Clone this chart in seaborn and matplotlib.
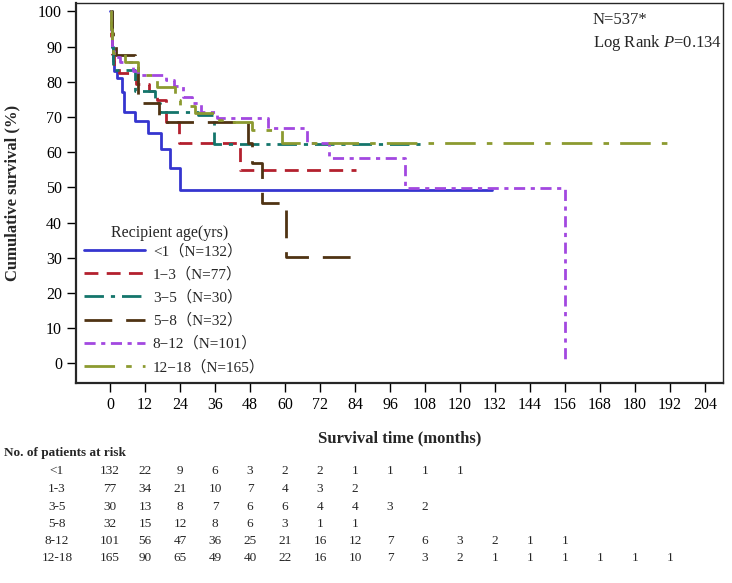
import matplotlib
matplotlib.use('Agg')
import matplotlib.pyplot as plt
import matplotlib.transforms as mtrans
import pandas as pd
import seaborn as sns

# Kaplan-Meier step curves (months, % surviving)
groups = ['<1', '1-3', '3-5', '5-8', '8-12', '12-18']
group_n = [132, 77, 30, 32, 101, 165]

t_lt1 = [0, 0.3, 0.6, 1.0, 1.5, 2.5, 4.0, 4.6, 8.6, 13.1, 17.5, 20.6, 24.0, 131]
s_lt1 = [100, 95, 90, 86, 83, 81, 77, 71.5, 69, 65.5, 61, 55.5, 49.3, 49.3]

t_1_3 = [0, 0.4, 0.8, 1.5, 3, 8.9, 13.4, 16, 19, 23.5, 44.6, 84.5]
s_1_3 = [100, 93, 88, 84.5, 82.5, 79.5, 77.5, 74.8, 68.5, 62.7, 54.8, 54.8]

t_3_5 = [0, 0.5, 1.0, 8.6, 15.5, 17, 30, 35.5, 108]
s_3_5 = [100, 90, 83.3, 77.5, 74, 71.5, 70.5, 62.3, 62.3]

t_5_8 = [0, 0.5, 1.0, 2.0, 8.6, 9.7, 16.6, 47.4, 48.5, 52, 60.2, 84]
s_5_8 = [100, 94, 90.5, 87.5, 85.5, 74, 68.5, 62.5, 56.9, 45.5, 30.3, 30.3]

t_8_12 = [0, 0.4, 0.8, 1.5, 3.5, 8, 9.6, 19, 22, 25, 28, 31, 36.6, 54.3, 67.4, 74.9, 101.1, 156]
s_8_12 = [100, 94, 90, 87, 85.5, 83, 81.9, 80.5, 78.8, 75.8, 74, 71.5, 69.6, 66.8, 62.5, 58.3, 49.7, 0]

t_12_18 = [0, 0.3, 0.6, 1, 5, 9.7, 14.8, 16, 22.3, 24, 29, 36, 38.3, 48.6, 58.9, 191]
s_12_18 = [100, 95, 91, 88.3, 85.7, 81.9, 80.5, 78.5, 74.8, 73, 71, 69.2, 68.6, 66.3, 62.7, 62.7]

# numbers at risk (every 12 months from 0)
risk_times = list(range(0, 205, 12))
risk_lt1 = [132, 22, 9, 6, 3, 2, 2, 1, 1, 1, 1]
risk_1_3 = [77, 34, 21, 10, 7, 4, 3, 2]
risk_3_5 = [30, 13, 8, 7, 6, 6, 4, 4, 3, 2]
risk_5_8 = [32, 15, 12, 8, 6, 3, 1, 1]
risk_8_12 = [101, 56, 47, 36, 25, 21, 16, 12, 7, 6, 3, 2, 1, 1]
risk_12_18 = [165, 90, 65, 49, 40, 22, 16, 10, 7, 3, 2, 1, 1, 1, 1, 1, 1]

curves = [(t_lt1, s_lt1), (t_1_3, s_1_3), (t_3_5, s_3_5),
          (t_5_8, s_5_8), (t_8_12, s_8_12), (t_12_18, s_12_18)]
risks = [risk_lt1, risk_1_3, risk_3_5, risk_5_8, risk_8_12, risk_12_18]


def plot():
    labels = ['%s（N=%d）' % (g.replace('-', '−'), n)
              for g, n in zip(groups, group_n)]
    rows = []
    for lab, (tt, ss) in zip(labels, curves):
        for t, s in zip(tt, ss):
            rows.append({'group': lab, 'time': t, 'surv': s})
    df = pd.DataFrame(rows)

    pal = dict(zip(labels, ['#3535CF', '#B3202E', '#14756B',
                            '#4F3313', '#A248E0', '#8C9A30']))
    dashes = dict(zip(labels, ['', (5, 3), (7, 2.5, 1.5, 2.5), (10, 5),
                               (4, 2, 1.5, 2), (11, 4, 2, 4)]))

    sns.set_style('ticks')
    plt.rcParams['font.family'] = ['Liberation Serif', 'Noto Sans CJK SC']
    plt.rcParams['mathtext.fontset'] = 'custom'
    plt.rcParams['mathtext.rm'] = 'Liberation Serif'
    plt.rcParams['mathtext.it'] = 'Liberation Serif:italic'

    fig = plt.figure(figsize=(7.32, 5.83), dpi=100)
    ax = fig.add_axes([76 / 732, 1 - 383 / 583, 647 / 732, 380 / 583])

    sns.lineplot(data=df, x='time', y='surv', hue='group', style='group',
                 palette=pal, dashes=dashes, estimator=None, sort=False,
                 drawstyle='steps-post', linewidth=2, ax=ax)

    ax.set_xlim(-11.7, 210.2)
    ax.set_ylim(-5.6, 102.4)
    ax.set_xticks(risk_times)
    ax.set_yticks(range(0, 101, 10))
    ax.tick_params(labelsize=11.5, length=6.5, width=1, colors='black')
    for side in ['left', 'bottom']:
        ax.spines[side].set_linewidth(1.6)
    for side in ['top', 'right']:
        ax.spines[side].set_linewidth(1.0)
        ax.spines[side].set_visible(True)

    ax.set_xlabel('Survival time (months)', fontsize=12, fontweight='bold')
    ax.xaxis.label.set_va('center')
    ax.xaxis.set_label_coords(0.5, (383 - 438) / 380)
    ax.set_ylabel('Cumulative survival (%)', fontsize=12, fontweight='bold')
    ax.yaxis.label.set_va('center')
    ax.yaxis.set_label_coords((12 - 76) / 647, 0.5)

    old = ax.get_legend()
    handles = old.legend_handles
    texts = [t.get_text() for t in old.get_texts()]
    old.remove()
    leg = ax.legend(handles, texts, loc='upper left',
                    bbox_to_anchor=((84 - 76) / 647, (383 - 244) / 380),
                    frameon=False, fontsize=11,
                    handlelength=4, handletextpad=0.5, labelspacing=0.56,
                    borderpad=0, borderaxespad=0)
    for h in leg.legend_handles:
        h.set_linewidth(2)
    fig.text(111 / 732, 1 - 233 / 583, 'Recipient age(yrs)', fontsize=11.5,
             ha='left', va='center')

    fig.text(593 / 732, 1 - 20 / 583, 'N=537*', fontsize=12, va='center')
    fig.text(593 / 732, 1 - 43 / 583, 'Log Rank $\\mathit{P}$=0.134', fontsize=12, va='center')

    # at-risk table below the axis
    trans = mtrans.blended_transform_factory(ax.transData, fig.transFigure)
    fig.text(4 / 732, 1 - 453 / 583, 'No. of patients at risk', fontsize=9.5,
             fontweight='bold', va='center')
    row_y = [471, 489, 506.5, 524, 541, 558]
    for g, counts, y in zip(groups, risks, row_y):
        fig.text(57 / 732, 1 - y / 583, g, fontsize=9.5, ha='center', va='center')
        for t, c in zip(risk_times, counts):
            ax.text(t, 1 - y / 583, str(c), transform=trans, fontsize=9.5,
                    ha='center', va='center', clip_on=False)

    return fig


def main_plots():
    fig = plot()
    fig.savefig('out.png', dpi=100)


if __name__ == '__main__':
    main_plots()
